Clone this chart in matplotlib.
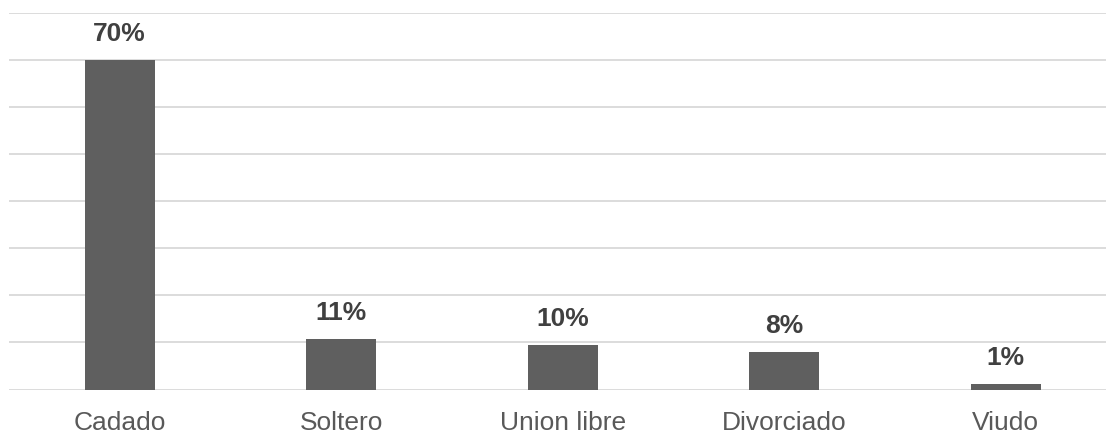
import matplotlib
matplotlib.use("Agg")
import matplotlib.pyplot as plt

categories = ["Cadado", "Soltero", "Union libre", "Divorciado", "Viudo"]
values = [0.70, 0.107, 0.095, 0.080, 0.012]
labels = ["70%", "11%", "10%", "8%", "1%"]

plt.rcParams['font.family'] = ['Liberation Sans', 'DejaVu Sans']

fig = plt.figure(figsize=(11.06, 4.33), dpi=100)
ax = fig.add_axes([9/1106, 1 - 389.5/433, 1107.5/1106, (389.5-13)/433])

x = list(range(len(categories)))
bars = ax.bar(x, values, width=0.316, color="#5f5f5f", zorder=3)
ax.set_xlim(-0.5, len(categories) - 0.5)
ax.set_ylim(0, 0.8)
ax.set_yticks([i / 10 for i in range(9)])
ax.yaxis.grid(True, color="#d9d9d9", linewidth=1.3, zorder=0)
ax.tick_params(axis='y', left=False, labelleft=False)
ax.tick_params(axis='x', bottom=False, labelsize=19, labelcolor="#595959", pad=12)
ax.set_xticks(x)
ax.set_xticklabels(categories)
for s in ax.spines.values():
    s.set_visible(False)

for b, lab in zip(bars, labels):
    ax.annotate(lab, (b.get_x() + b.get_width() / 2, b.get_height()),
                xytext=(0, 10), textcoords="offset points", ha="center", va="bottom",
                fontsize=19, fontweight="bold", color="#404040")

fig.savefig("out.png", dpi=100)
